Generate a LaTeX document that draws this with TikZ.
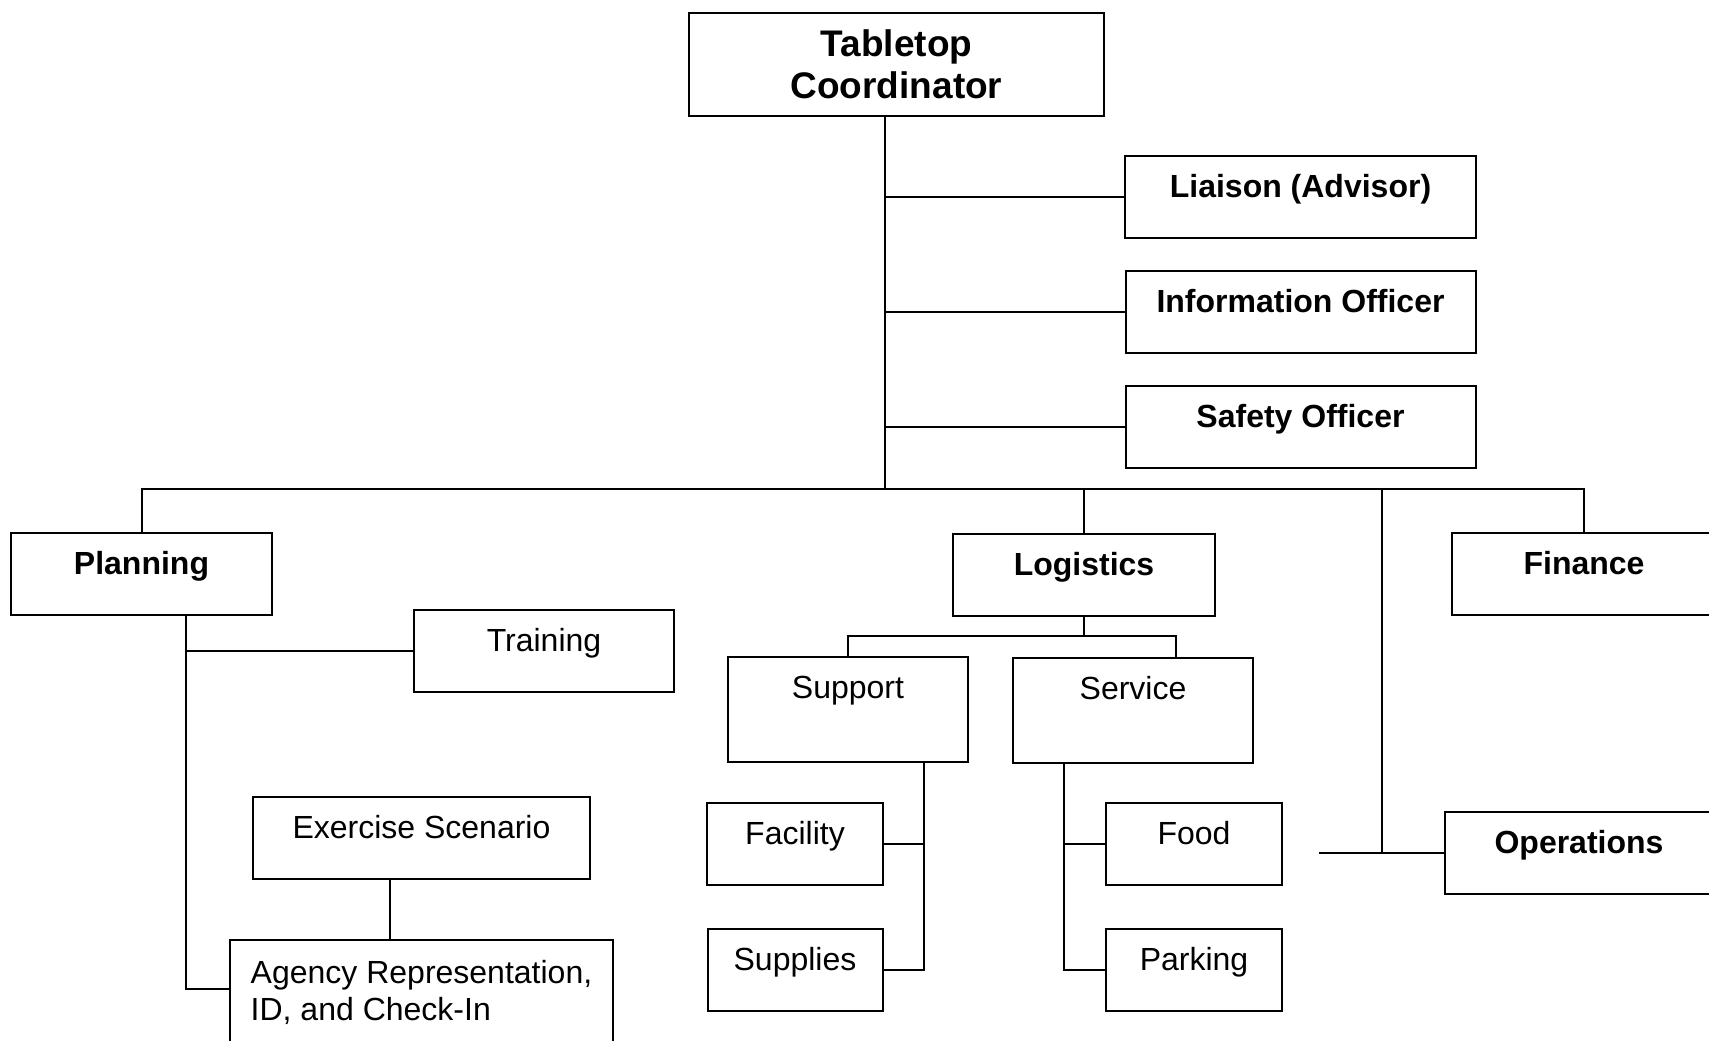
\documentclass[tikz,border=0pt]{standalone}
\usepackage{fontspec}
\setmainfont{Liberation Sans}
\usetikzlibrary{positioning}

\begin{document}
\begin{tikzpicture}[x=0.5pt, y=-0.5pt, line width=1pt, node distance=57.5pt,
    box/.style={draw, inner sep=0pt, text height=20.75pt, text depth=20.25pt},
    tallbox/.style={text depth=31.75pt},
    chief/.style={box, font=\bfseries\fontsize{16pt}{18.5pt}\selectfont},
    unit/.style={box, font=\fontsize{16pt}{18.5pt}\selectfont}]
   \useasboundingbox (0,0) rectangle (1709,1040);
   \clip (0,0) rectangle (1709,1040);

   % top of the chart
   \node[draw, inner sep=0pt, minimum width=207.5pt, minimum height=51.5pt, align=center,
         font=\bfseries\fontsize{18.5pt}{21pt}\selectfont] (tc) at (896.5,64) {Tabletop\\Coordinator};
   \node[chief, minimum width=175.5pt] (lia) at (1300.5,196.5) {Liaison (Advisor)};
   \node[chief, minimum width=175pt] (info) [below of=lia] {Information Officer};
   \node[chief, minimum width=175pt] (saf) [below of=info] {Safety Officer};

   % sections
   \node[chief, minimum width=130.5pt] (plan) at (141.5,573.5) {Planning};
   \node[chief, minimum width=131pt] (log) at (1084,574.5) {Logistics};
   \node[chief, minimum width=132pt] (fin) at (1584,573.5) {Finance};
   \node[chief, minimum width=134pt] (ops) at (1579,852.5) {Operations};

   % planning units
   \node[unit, minimum width=130pt] (trn) at (544,651) {Training};
   \node[unit, minimum width=168.5pt] (exs) at (421.5,837.5) {Exercise Scenario};
   \node[draw, inner sep=0pt, minimum width=191.5pt, minimum height=52.5pt,
         align=left, font=\fontsize{16pt}{18.5pt}\selectfont] (agy) at (421.5,992.5)
         {Agency Representation,\\ID, and Check-In};

   % logistics units
   \node[unit, tallbox, minimum width=120pt] (sup) at (848,709.5) {Support};
   \node[unit, tallbox, minimum width=120pt] (srv) at (1133,710.5) {Service};
   \node[unit, minimum width=88pt] (fac) at (795,844) {Facility};
   \node[unit, minimum width=87.5pt, node distance=63pt] (spl) [below of=fac] {Supplies};
   \node[unit, minimum width=88pt] (food) at (1194,844) {Food};
   \node[unit, minimum width=88pt, node distance=63pt] (park) [below of=food] {Parking};

   % connectors
   \coordinate (hub) at (885,489);
   \draw (tc.south -| hub) -- (hub);
   \foreach \n in {lia,info,saf}
      \draw (\n.west) -- (\n.west -| hub);
   \draw (plan.north) -- (plan.north |- hub) -- (fin.north |- hub) -- (fin.north);
   \draw (log.north) -- (log.north |- hub);

   \coordinate (opsj) at (1382,852.5);
   \coordinate (opsend) at (1319,852.5);
   \draw (opsj |- hub) -- (opsj);
   \draw (opsend) -- (ops.west);

   \coordinate (pbot) at (186,989);
   \draw (plan.south -| pbot) -- (pbot) -- (pbot -| agy.west);
   \draw (trn.west) -- (trn.west -| pbot);
   \path (exs.south) ++(-31.5,0) coordinate (exj);
   \draw (exj) -- (exj |- agy.north);

   \draw (log.south) -- ++(0,19) coordinate (lj);
   \draw (sup.north) -- (sup.north |- lj) -- ++(328,0) coordinate (srvj) -- (srvj |- srv.north);

   \coordinate (supb) at (924,970);
   \draw (sup.south -| supb) -- (supb |- spl.east) -- (spl.east);
   \draw (fac.east) -- (fac.east -| supb);
   \coordinate (srvb) at (1064,970);
   \draw (srv.south -| srvb) -- (srvb |- park.west) -- (park.west);
   \draw (food.west) -- (food.west -| srvb);
\end{tikzpicture}
\end{document}
